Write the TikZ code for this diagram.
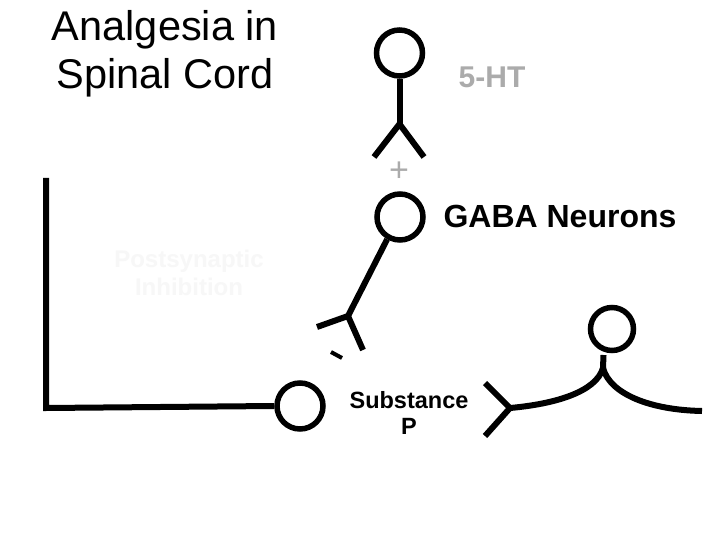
\documentclass[tikz,border=0pt]{standalone}
\usepackage{fontspec}
\setmainfont{Liberation Sans}
\begin{document}
\begin{tikzpicture}[x=1pt,y=-1pt,
  nerve/.style={line width=6pt,black},
  soma/.style={circle,draw=black,line width=5.5pt,minimum size=46pt,inner sep=0pt},
  lbl/.style={inner sep=0pt,align=center}]
\useasboundingbox[fill=white] (0,0) rectangle (720,540);
% title
\node[lbl,font=\fontsize{41.5}{48}\selectfont] (title) at (165,54) {Analgesia in\\Spinal Cord};
% top 5-HT neuron
\node[soma] (top) at (399.5,53) {};
\coordinate (topj) at (399.5,124);
\coordinate (topl) at (374,157);
\coordinate (topr) at (424,157);
\draw[nerve] (top.south) -- (topj);
\draw[nerve] (topl) -- (topj) -- (topr);
\node[lbl,font=\fontsize{30}{34}\bfseries,text=black!33] (ht) at (492,77) {5-HT};
\node[lbl,font=\fontsize{34}{38}\selectfont,text=black!33] (plus) at (399,172) {+};
% GABA neuron
\node[soma] (gaba) at (400,217) {};
\node[lbl,font=\fontsize{32}{36}\bfseries] (gabal) at (560,216) {GABA Neurons};
\coordinate (gj) at (348,316);
\coordinate (gl) at (317,327);
\coordinate (gr) at (363,350);
\draw[nerve] (gaba.240) -- (gj);
\draw[nerve] (gl) -- (gj) -- (gr);
\coordinate (m1) at (331,352);
\coordinate (m2) at (342,358);
\draw[line width=4pt] (m1) -- (m2);
% postsynaptic inhibition (faint)
\node[lbl,font=\fontsize{24}{28}\bfseries,text=black!3] (post) at (189,273) {Postsynaptic\\Inhibition};
% L-shaped neuron
\node[soma] (low) at (300,406) {};
\coordinate (ltop) at (46,178);
\coordinate (lcorner) at (46,408);
\draw[nerve] (ltop) -- (lcorner) -- (low.west);
% substance P
\node[lbl,font=\fontsize{23.5}{26}\bfseries] (subp) at (409,413) {Substance\\P};
% right neuron
\node[soma,minimum size=43pt] (right) at (612,329) {};
\coordinate (rj) at (603,368);
\coordinate (rl) at (510,408);
\coordinate (rr) at (702,411);
\coordinate (ra) at (485,383);
\coordinate (rb) at (485,436);
\draw[nerve] (603.5,355) -- (rj);
\draw[nerve] (rj) .. controls (596,392) and (555,404) .. (rl);
\draw[nerve] (rj) .. controls (610,394) and (650,410) .. (rr);
\draw[nerve] (ra) -- (rl) -- (rb);
\end{tikzpicture}
\end{document}
